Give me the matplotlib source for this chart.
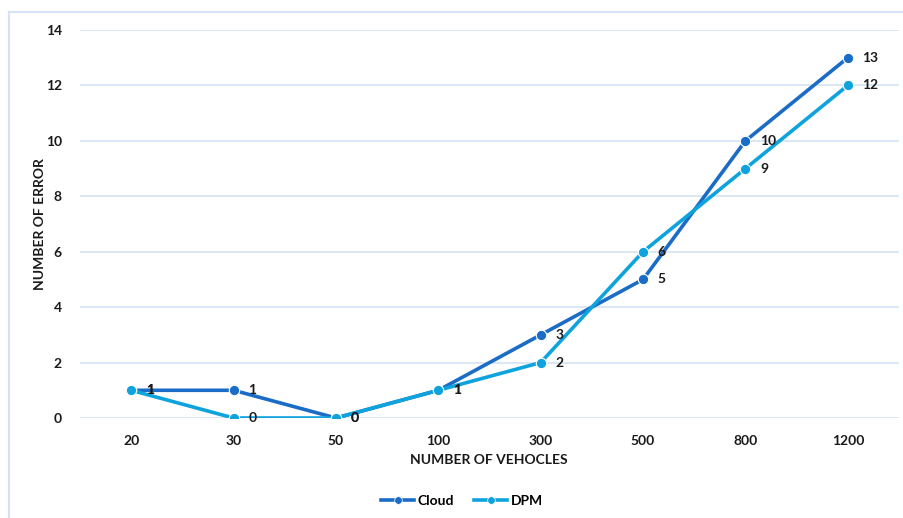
import matplotlib
matplotlib.use("Agg")
import matplotlib.pyplot as plt
from matplotlib.lines import Line2D

categories = ["20", "30", "50", "100", "300", "500", "800", "1200"]
cloud = [1, 1, 0, 1, 3, 5, 10, 13]
dpm = [1, 0, 0, 1, 2, 6, 9, 12]
yticks = [0, 2, 4, 6, 8, 10, 12, 14]

plt.rcParams['font.family'] = ['Lato', 'DejaVu Sans']
plt.rcParams['font.weight'] = 'bold'

c_cloud = "#1a6cc6"
c_dpm = "#0fa3dd"
grid_c = "#d5e3f4"
txt_c = "#1a1a1a"
fs = 10

fig = plt.figure(figsize=(9.04, 5.18), dpi=100)
W, H = 904, 518
ax = fig.add_axes([80 / W, 1 - 418 / H, (899 - 80) / W, (418 - 30) / H])

x = list(range(len(categories)))
for vals, col in [(cloud, c_cloud), (dpm, c_dpm)]:
    ax.plot(x, vals, color=col, lw=2.6, marker='o', ms=7.5, mfc=col,
            mec='white', mew=0.8, zorder=3, solid_capstyle='round')

for xi, v in zip(x, cloud):
    ax.annotate(str(v), (xi, v), xytext=(10.5, 0), textcoords='offset points',
                ha='left', va='center', fontsize=fs, fontweight='bold', color=txt_c, zorder=4)
for xi, v in zip(x, dpm):
    ax.annotate(str(v), (xi, v), xytext=(10.5, 0), textcoords='offset points',
                ha='left', va='center', fontsize=fs, fontweight='bold', color=txt_c, zorder=4)

ax.set_xlim(-0.5, len(categories) - 0.5)
ax.set_ylim(0, 14)
ax.set_yticks(yticks)
ax.set_xticks(x)
ax.set_xticklabels(categories)
ax.tick_params(axis='both', length=0, labelsize=fs, colors=txt_c)
ax.tick_params(axis='y', pad=13)
ax.tick_params(axis='x', pad=12)
for lab in ax.get_xticklabels() + ax.get_yticklabels():
    lab.set_fontweight('bold')
ax.grid(axis='y', color=grid_c, lw=1.2)
ax.set_axisbelow(True)
for s in ax.spines.values():
    s.set_visible(False)

fig.text(40 / W, 1 - 224 / H, "NUMBER OF ERROR", rotation=90, ha='center', va='center',
         fontsize=fs, fontweight='bold', color=txt_c)
fig.text(489 / W, 1 - 460 / H, "NUMBER OF VEHOCLES", ha='center', va='center',
         fontsize=fs, fontweight='bold', color=txt_c)

handles = [Line2D([], [], color=c_cloud, lw=2.6, marker='o', ms=5.5, mec='white', mew=0.5),
           Line2D([], [], color=c_dpm, lw=2.6, marker='o', ms=5.5, mec='white', mew=0.5)]
fig.legend(handles, ["Cloud", "DPM"], loc='center', bbox_to_anchor=(462 / W, 1 - 501 / H),
           ncol=2, frameon=False, prop={'weight': 'bold', 'size': fs},
           handlelength=2.4, columnspacing=1.4, handletextpad=0.25)

# outer chart border (left and top visible)
fig.add_artist(Line2D([9 / W, 9 / W], [0, 1 - 12 / H], color=grid_c, lw=1.5, transform=fig.transFigure))
fig.add_artist(Line2D([9 / W, 1], [1 - 12 / H, 1 - 12 / H], color=grid_c, lw=1.5, transform=fig.transFigure))

fig.savefig("out.png", dpi=100, facecolor='white')
